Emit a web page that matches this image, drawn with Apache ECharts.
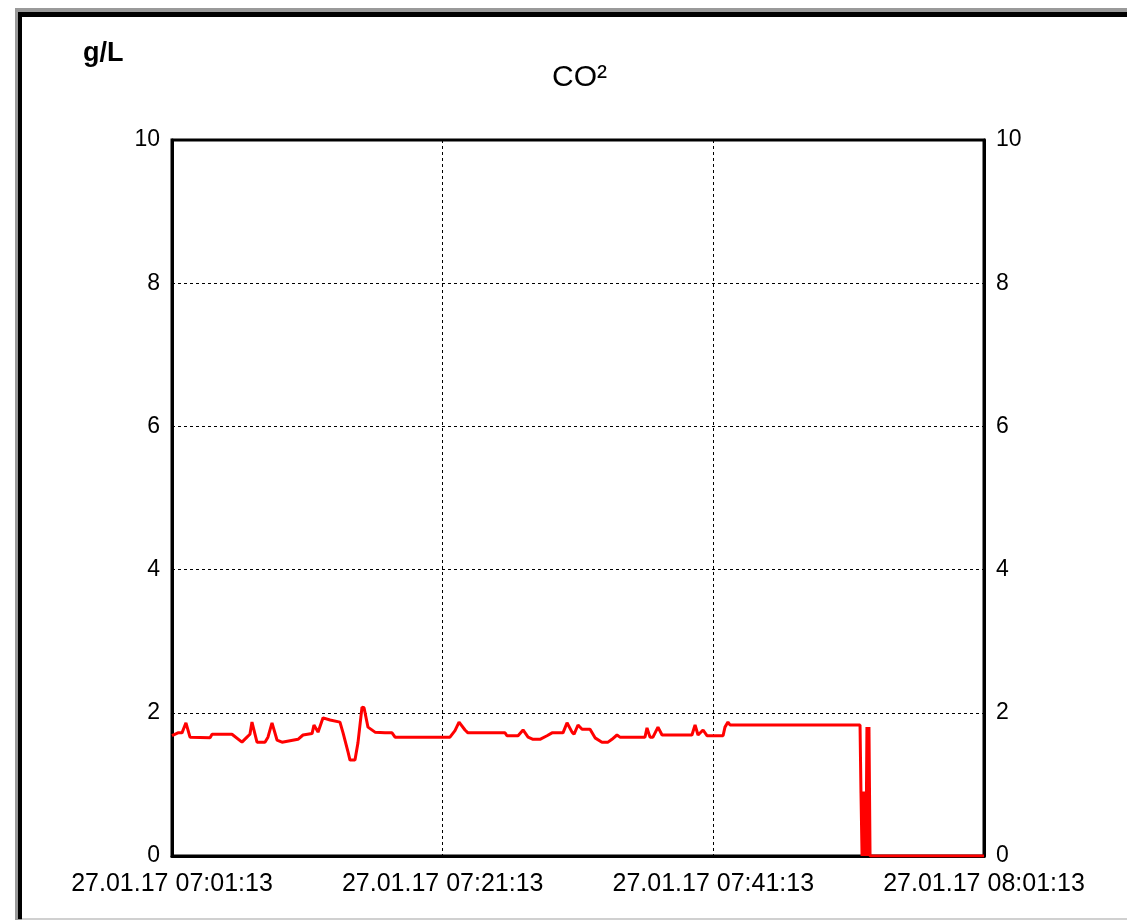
<!DOCTYPE html>
<html>
<head>
<meta charset="utf-8">
<title>CO²</title>
<script src="https://cdn.jsdelivr.net/npm/echarts@6/dist/echarts.min.js"></script>
<style>
    html, body { margin: 0; padding: 0; background: #fff; }
    #main { width: 1127px; height: 924px; }
</style>
</head>
<body>
<div id="main"></div>
<script>
// minutes after 27.01.17 07:01:13
var minutes = [0.00, 0.44, 0.74, 1.03, 1.33, 2.81, 2.96, 4.43, 5.17, 5.54, 5.76, 5.91, 6.28, 6.87, 7.09, 7.39,
    7.76, 8.13, 9.31, 9.68, 10.35, 10.49, 10.79, 11.16, 11.68, 12.41, 12.64, 13.01, 13.15, 13.52, 13.74, 14.04,
    14.19, 14.48, 15.00, 15.74, 16.26, 16.48, 20.54, 20.91, 21.21, 21.65, 21.87, 24.61, 24.75, 25.57, 25.94, 26.31,
    26.68, 27.19, 27.71, 28.08, 28.89, 29.19, 29.56, 29.71, 30.00, 30.30, 30.89, 31.26, 31.77, 32.22, 32.51, 32.88,
    33.10, 34.95, 35.10, 35.32, 35.54, 35.91, 36.21, 38.42, 38.65, 38.87, 39.24, 39.53, 40.72, 40.86, 41.08, 41.23,
    50.84, 50.91, 50.99, 51.06, 51.13, 51.21, 51.28, 51.35, 51.43, 51.50, 51.58, 60.00];
// CO² in g/L
var co2 = [1.68, 1.72, 1.72, 1.86, 1.66, 1.65, 1.70, 1.70, 1.59, 1.66, 1.70, 1.87, 1.59, 1.59, 1.66, 1.86,
    1.62, 1.59, 1.63, 1.69, 1.71, 1.83, 1.73, 1.93, 1.90, 1.87, 1.72, 1.45, 1.34, 1.34, 1.58, 2.08,
    2.07, 1.80, 1.73, 1.72, 1.72, 1.66, 1.66, 1.75, 1.87, 1.76, 1.72, 1.72, 1.68, 1.68, 1.76, 1.66,
    1.63, 1.63, 1.68, 1.72, 1.72, 1.86, 1.73, 1.70, 1.83, 1.77, 1.77, 1.65, 1.59, 1.59, 1.63, 1.69,
    1.66, 1.66, 1.79, 1.66, 1.66, 1.80, 1.69, 1.69, 1.83, 1.69, 1.76, 1.68, 1.68, 1.80, 1.87, 1.83,
    1.83, 0.88, 0, 0.9, 0, 0.9, 0, 1.8, 0, 1.8, 0, 0];
var xTickLabels = ['27.01.17 07:01:13', '27.01.17 07:21:13', '27.01.17 07:41:13', '27.01.17 08:01:13'];
var yTicks = [0, 2, 4, 6, 8, 10];

var fontName = '"Liberation Sans", Arial, sans-serif';
var myChart = echarts.init(document.getElementById('main'));

var lineData = minutes.map(function (m, i) {
    return [m, co2[i]];
});

var yAxisBase = function (pos) {
    return {
        type: 'value',
        position: pos,
        min: yTicks[0],
        max: yTicks[yTicks.length - 1],
        interval: 2,
        axisLine: { show: true, lineStyle: { color: '#000', width: 3 } },
        axisTick: { show: false },
        axisLabel: { color: '#000', fontSize: 23, fontFamily: fontName, margin: 12 },
        splitLine: pos === 'left' ? { show: true, lineStyle: { color: '#000', type: [3, 3], width: 1 } } : { show: false }
    };
};

var option = {
    animation: false,
    backgroundColor: '#fff',
    graphic: [
        { type: 'rect', z: -10, shape: { x: 15, y: 8, width: 1120, height: 912 }, style: { fill: '#9a9a9a' } },
        { type: 'rect', z: -9, shape: { x: 18, y: 12, width: 1115, height: 907 }, style: { fill: '#000' } },
        { type: 'rect', z: -8, shape: { x: 22, y: 17, width: 1110, height: 901 }, style: { fill: '#fff' } },
        { type: 'rect', z: -8, shape: { x: 22, y: 918, width: 1110, height: 2 }, style: { fill: '#d0d0d0' } }
    ],
    title: [
        {
            text: 'CO²',
            left: 547,
            top: 58,
            textStyle: { color: '#000', fontSize: 30, fontWeight: 'normal', fontFamily: fontName }
        },
        {
            text: 'g/L',
            left: 78,
            top: 35,
            textStyle: { color: '#000', fontSize: 27, fontWeight: 'bold', fontFamily: fontName }
        }
    ],
    grid: {
        left: 172,
        right: 143,
        top: 140,
        bottom: 68,
        show: true,
        borderColor: '#000',
        borderWidth: 3,
        backgroundColor: 'transparent'
    },
    xAxis: {
        type: 'value',
        min: 0,
        max: 60,
        interval: 20,
        axisLine: { show: true, lineStyle: { color: '#000', width: 3 } },
        axisTick: { show: false },
        axisLabel: {
            color: '#000',
            fontSize: 25,
            fontFamily: fontName,
            margin: 16,
            showMinLabel: true,
            showMaxLabel: true,
            formatter: function (v) {
                return xTickLabels[Math.round(v / 20)];
            }
        },
        splitLine: { show: true, lineStyle: { color: '#000', type: [3, 3], width: 1 } }
    },
    yAxis: [yAxisBase('left'), yAxisBase('right')],
    series: [
        {
            name: 'CO²',
            type: 'line',
            data: lineData,
            showSymbol: false,
            lineStyle: { color: '#ff0000', width: 3 },
            itemStyle: { color: '#ff0000' },
            z: 5
        }
    ]
};
option && myChart.setOption(option);
</script>
</body>
</html>
